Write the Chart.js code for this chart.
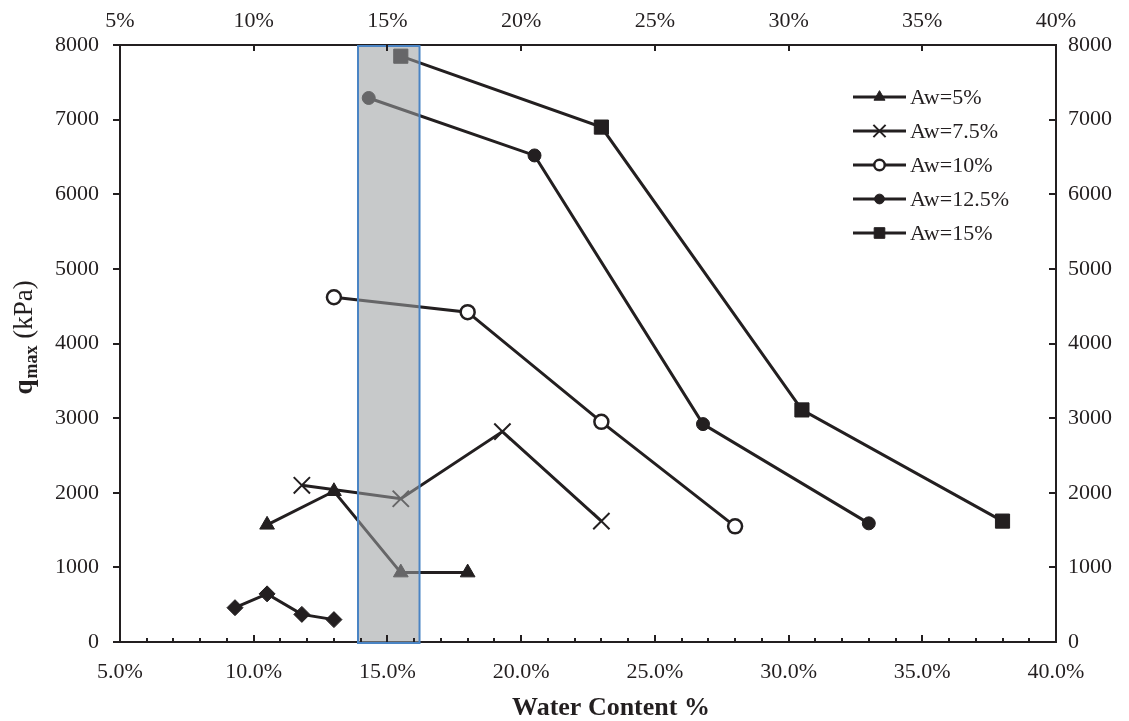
<!DOCTYPE html>
<html lang="en">
<head>
    <meta charset="UTF-8">
    <title>qmax vs Water Content</title>
    <script src="https://cdn.jsdelivr.net/npm/chart.js"></script>
    <style>
        body {
            margin: 0;
            background: #ffffff;
        }
        #wrap {
            width: 1129px;
            height: 721px;
            position: relative;
        }
    </style>
</head>
<body>
    <div id="wrap"><canvas id="qmaxChart"></canvas></div>

    <script>
        // data (water content in %, qmax in kPa)
        const baseWater = [9.3, 10.5, 11.8, 13.0];
        const baseQ = [460, 645, 370, 300];

        const aw5Water = [10.5, 13.0, 15.5, 18.0];
        const aw5Q = [1570, 2020, 930, 930];

        const aw75Water = [11.8, 15.5, 19.3, 23.0];
        const aw75Q = [2100, 1920, 2820, 1620];

        const aw10Water = [13.0, 18.0, 23.0, 28.0];
        const aw10Q = [4620, 4420, 2950, 1550];

        const aw125Water = [14.3, 20.5, 26.8, 33.0];
        const aw125Q = [7290, 6520, 2920, 1590];

        const aw15Water = [15.5, 23.0, 30.5, 38.0];
        const aw15Q = [7850, 6900, 3110, 1620];

        const seriesLabels = ['', 'Aw=5%', 'Aw=7.5%', 'Aw=10%', 'Aw=12.5%', 'Aw=15%'];

        // axis ranges / tick steps
        const xRange = [5, 40];
        const yRange = [0, 8000];
        const xStep = 5;
        const yStep = 1000;

        // shaded band on the x axis (water content %)
        const shadedBand = [13.9, 16.2];

        const INK = '#231f20';
        const SERIF = '"Liberation Serif", "Times New Roman", serif';

        function toPoints(xs, ys) {
            return xs.map(function (x, i) { return { x: x, y: ys[i] }; });
        }

        function series(label, xs, ys, style, radius, fill, bw) {
            return {
                label: label,
                data: toPoints(xs, ys),
                showLine: true,
                borderColor: INK,
                borderWidth: 3,
                pointStyle: style,
                pointRadius: radius,
                pointBackgroundColor: fill,
                pointBorderColor: INK,
                pointBorderWidth: bw
            };
        }

        const datasets = [
            series(seriesLabels[0], baseWater, baseQ, 'rectRot', 8, INK, 1),
            series(seriesLabels[1], aw5Water, aw5Q, 'triangle', 8.5, INK, 1),
            series(seriesLabels[2], aw75Water, aw75Q, 'crossRot', 11.5, INK, 2),
            series(seriesLabels[3], aw10Water, aw10Q, 'circle', 7, '#ffffff', 2.5),
            series(seriesLabels[4], aw125Water, aw125Q, 'circle', 6.5, INK, 1),
            series(seriesLabels[5], aw15Water, aw15Q, 'rect', 10, INK, 1)
        ];

        // grey band drawn over the lines, like the picture
        const bandPlugin = {
            id: 'band',
            afterDatasetsDraw: function (chart) {
                const ctx = chart.ctx;
                const xs = chart.scales.x;
                const area = chart.chartArea;
                const x0 = xs.getPixelForValue(shadedBand[0]);
                const x1 = xs.getPixelForValue(shadedBand[1]);
                ctx.save();
                ctx.fillStyle = 'rgba(156,158,161,0.56)';
                ctx.fillRect(x0, area.top + 1, x1 - x0, area.bottom - area.top);
                ctx.strokeStyle = '#4a84c4';
                ctx.lineWidth = 2;
                ctx.strokeRect(x0, area.top + 1, x1 - x0, area.bottom - area.top);
                ctx.restore();
            }
        };

        // tick marks (inside on bottom/top/right, outside on left)
        const tickPlugin = {
            id: 'ticks',
            afterDraw: function (chart) {
                const ctx = chart.ctx;
                const a = chart.chartArea;
                const xs = chart.scales.x;
                const ys = chart.scales.y;
                ctx.save();
                ctx.strokeStyle = INK;
                ctx.lineWidth = 2;
                ctx.beginPath();
                for (let v = xRange[0]; v <= xRange[1]; v += 1) {
                    const px = Math.round(xs.getPixelForValue(v));
                    const len = (v % xStep === 0) ? 7 : 4;
                    ctx.moveTo(px, a.bottom);
                    ctx.lineTo(px, a.bottom - len);
                }
                for (let v = xRange[0]; v <= xRange[1]; v += xStep) {
                    const px = Math.round(xs.getPixelForValue(v));
                    ctx.moveTo(px, a.top);
                    ctx.lineTo(px, a.top + 6);
                }
                for (let v = yRange[0]; v <= yRange[1]; v += yStep) {
                    const py = Math.round(ys.getPixelForValue(v));
                    ctx.moveTo(a.left, py);
                    ctx.lineTo(a.left - 7, py);
                    ctx.moveTo(a.right, py);
                    ctx.lineTo(a.right - 7, py);
                }
                ctx.stroke();
                ctx.restore();
            }
        };

        // legend: line with marker in the middle, Excel style
        const legendPlugin = {
            id: 'lineLegend',
            afterDraw: function (chart) {
                const ctx = chart.ctx;
                let row = 0;
                ctx.save();
                chart.data.datasets.forEach(function (ds) {
                    if (!ds.label) return;
                    const y = 97 + row * 34;
                    ctx.strokeStyle = INK;
                    ctx.lineWidth = 3;
                    ctx.beginPath();
                    ctx.moveTo(853, y);
                    ctx.lineTo(906, y);
                    ctx.stroke();
                    ctx.fillStyle = ds.pointBackgroundColor;
                    ctx.lineWidth = ds.pointBorderWidth;
                    Chart.helpers.drawPoint(ctx, {
                        pointStyle: ds.pointStyle,
                        radius: ds.pointRadius * 0.75,
                        borderWidth: ds.pointBorderWidth,
                        rotation: 0
                    }, 879.5, y);
                    ctx.fillStyle = INK;
                    ctx.font = '22px ' + SERIF;
                    ctx.textAlign = 'left';
                    ctx.textBaseline = 'middle';
                    ctx.fillText(ds.label, 910, y + 1);
                    row++;
                });
                ctx.restore();
            }
        };

        // axis titles
        const titlePlugin = {
            id: 'axisTitles',
            afterDraw: function (chart) {
                const ctx = chart.ctx;
                ctx.save();
                ctx.fillStyle = INK;
                ctx.textBaseline = 'alphabetic';
                ctx.font = 'bold 26px ' + SERIF;
                ctx.textAlign = 'center';
                ctx.fillText('Water Content %', 611, 715);

                // q_max (kPa), rotated
                const bigB = 'bold 27px ' + SERIF;
                const sub = 'bold 18px ' + SERIF;
                const norm = '27px ' + SERIF;
                ctx.font = bigB; const w1 = ctx.measureText('q').width;
                ctx.font = sub; const w2 = ctx.measureText('max').width;
                ctx.font = norm; const w3 = ctx.measureText(' (kPa)').width;
                const total = w1 + w2 + w3;
                ctx.translate(32, 338);
                ctx.rotate(-Math.PI / 2);
                ctx.textAlign = 'left';
                let x = -total / 2;
                ctx.font = bigB; ctx.fillText('q', x, 0); x += w1 + 1;
                ctx.font = sub; ctx.fillText('max', x, 5); x += w2;
                ctx.font = norm; ctx.fillText(' (kPa)', x, 0);
                ctx.restore();
            }
        };

        const tickFont = { family: SERIF, size: 22 };

        function axisBorder() {
            return { display: true, color: INK, width: 2 };
        }

        function plainNumber(v) {
            return String(v);
        }

        const ctx = document.getElementById('qmaxChart').getContext('2d');
        const qmaxChart = new Chart(ctx, {
            type: 'scatter',
            data: { datasets: datasets },
            options: {
                responsive: true,
                maintainAspectRatio: false,
                animation: false,
                layout: { padding: 0 },
                plugins: {
                    legend: { display: false },
                    tooltip: { enabled: false }
                },
                elements: { line: { tension: 0 } },
                scales: {
                    x: {
                        type: 'linear',
                        position: 'bottom',
                        min: xRange[0],
                        max: xRange[1],
                        grid: { display: false },
                        border: axisBorder(),
                        ticks: {
                            stepSize: xStep,
                            padding: 9,
                            color: INK,
                            font: tickFont,
                            callback: function (v) { return v.toFixed(1) + '%'; }
                        },
                        afterFit: function (s) { s.height = 79; }
                    },
                    x2: {
                        type: 'linear',
                        position: 'top',
                        min: xRange[0],
                        max: xRange[1],
                        grid: { display: false },
                        border: axisBorder(),
                        ticks: {
                            stepSize: xStep,
                            padding: 3,
                            color: INK,
                            font: tickFont,
                            callback: function (v) { return v + '%'; }
                        },
                        afterFit: function (s) { s.height = 45; }
                    },
                    y: {
                        type: 'linear',
                        position: 'left',
                        min: yRange[0],
                        max: yRange[1],
                        grid: { display: false },
                        border: axisBorder(),
                        ticks: {
                            stepSize: yStep,
                            padding: 13,
                            color: INK,
                            font: tickFont,
                            callback: plainNumber
                        },
                        afterFit: function (s) { s.width = 120; }
                    },
                    y2: {
                        type: 'linear',
                        position: 'right',
                        min: yRange[0],
                        max: yRange[1],
                        grid: { display: false },
                        border: axisBorder(),
                        ticks: {
                            stepSize: yStep,
                            padding: 4,
                            color: INK,
                            font: tickFont,
                            callback: plainNumber
                        },
                        afterFit: function (s) { s.width = 73; }
                    }
                }
            },
            plugins: [bandPlugin, tickPlugin, legendPlugin, titlePlugin]
        });
    </script>
</body>
</html>
